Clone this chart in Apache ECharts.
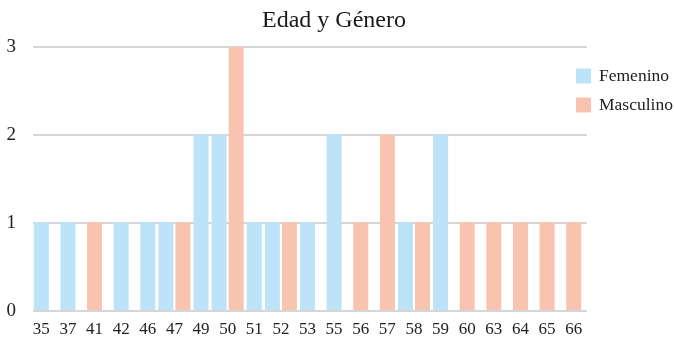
<!DOCTYPE html>
<html>
<head>
<meta charset="utf-8">
<script src="https://cdn.jsdelivr.net/npm/echarts@6/dist/echarts.min.js"></script>
<style>
  html, body { margin: 0; padding: 0; background: #fff; }
  #chart { width: 674px; height: 338px; }
</style>
</head>
<body>
<div id="chart"></div>
<script>
// Edades y número de personas por género
const ages = ['35', '37', '41', '42', '46', '47', '49', '50', '51', '52', '53',
              '55', '56', '57', '58', '59', '60', '63', '64', '65', '66'];
const femenino  = [1, 1, 0, 1, 1, 1, 2, 2, 1, 1, 1, 2, 0, 0, 1, 2, 0, 0, 0, 0, 0];
const masculino = [0, 0, 1, 0, 0, 1, 0, 3, 0, 1, 0, 0, 1, 2, 1, 0, 1, 1, 1, 1, 1];
const yTicks = [0, 1, 2, 3];

const FONT = '"Liberation Serif", "Times New Roman", serif';
const COLOR_F = '#bde3f8';
const COLOR_M = '#f8c4af';
const BAR_W = 15;
const PAIR_GAP = 2;

// Each age shows only its non-empty bars, centred on the category.
function barRenderer(side) {
  return function (params, api) {
    const idx = api.value(0);
    const val = api.value(1);
    const other = api.value(2);
    if (!val) return null;
    const top = api.coord([idx, val]);
    const base = api.coord([idx, 0]);
    let x = top[0] - BAR_W / 2;
    if (other > 0) {
      x = side < 0 ? top[0] - PAIR_GAP / 2 - BAR_W : top[0] + PAIR_GAP / 2;
    }
    return {
      type: 'rect',
      shape: { x: x, y: top[1], width: BAR_W, height: base[1] - top[1] },
      style: { fill: api.visual('color') }
    };
  };
}

const chart = echarts.init(document.getElementById('chart'), null, { renderer: 'canvas' });
chart.setOption({
  animation: false,
  backgroundColor: '#ffffff',
  title: {
    text: 'Edad y Género',
    left: 257,
    top: 4,
    textStyle: { fontFamily: FONT, fontSize: 24, fontWeight: 'normal', color: '#1a1a1a' }
  },
  legend: {
    orient: 'vertical',
    left: 571,
    top: 62,
    itemWidth: 15,
    itemHeight: 15,
    itemGap: 11,
    icon: 'rect',
    textStyle: { fontFamily: FONT, fontSize: 17.5, color: '#222', padding: [0, 0, 0, 3] },
    data: ['Femenino', 'Masculino']
  },
  grid: [
    { left: 28, right: 87, top: 47, bottom: 27 },
    { left: 33, right: 87, top: 47, bottom: 27 }
  ],
  xAxis: [
    {
      type: 'category',
      gridIndex: 0,
      data: ages,
      axisLine: { show: false },
      axisTick: { show: false },
      axisLabel: { fontFamily: FONT, fontSize: 17, color: '#222', margin: 11, interval: 0 }
    },
    { type: 'value', gridIndex: 1, min: 0, max: 1, show: false }
  ],
  yAxis: [
    { type: 'value', gridIndex: 0, min: 0, max: 3, interval: 1, show: false },
    {
      type: 'value',
      gridIndex: 1,
      min: yTicks[0],
      max: yTicks[yTicks.length - 1],
      interval: 1,
      axisLine: { show: false },
      axisTick: { show: false },
      axisLabel: { fontFamily: FONT, fontSize: 19, color: '#222', margin: 17 },
      splitLine: { show: true, lineStyle: { color: '#c9c9c9', width: 1.5 } }
    }
  ],
  series: [
    {
      name: 'Femenino',
      type: 'custom',
      xAxisIndex: 0,
      yAxisIndex: 0,
      itemStyle: { color: COLOR_F },
      renderItem: barRenderer(-1),
      encode: { x: 0, y: 1 },
      data: ages.map((a, i) => [i, femenino[i], masculino[i]])
    },
    {
      name: 'Masculino',
      type: 'custom',
      xAxisIndex: 0,
      yAxisIndex: 0,
      itemStyle: { color: COLOR_M },
      renderItem: barRenderer(1),
      encode: { x: 0, y: 1 },
      data: ages.map((a, i) => [i, masculino[i], femenino[i]])
    }
  ]
});
</script>
</body>
</html>
